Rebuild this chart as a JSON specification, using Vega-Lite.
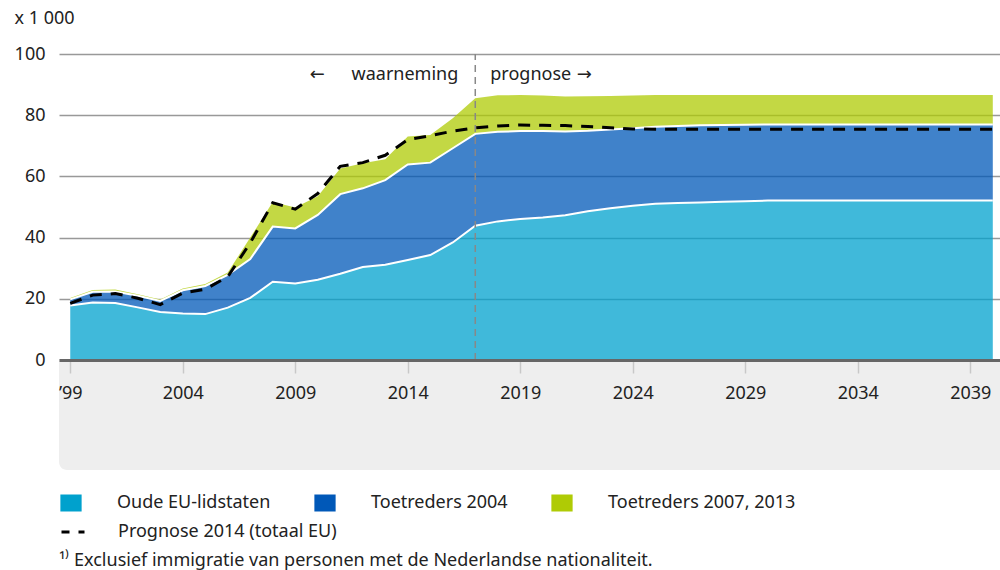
{
  "$schema": "https://vega.github.io/schema/vega-lite/v6.json",
  "width": 941,
  "height": 306,
  "autosize": {"type": "none"},
  "padding": {"left": 59, "top": 54, "right": 0, "bottom": 210},
  "background": "white",
  "config": {
    "font": "Noto Sans",
    "view": {"stroke": null},
    "legend": {"padding": 0}
  },
  "title": {
    "text": "¹⁾ Exclusief immigratie van personen met de Nederlandse nationaliteit.",
    "orient": "bottom",
    "anchor": "start",
    "frame": "group",
    "offset": 11,
    "fontSize": 18,
    "fontWeight": "normal",
    "color": "#222222"
  },
  "data": {"values": [{}]},
  "datasets": {
    "reeksen": [
      {"jaar": 1999, "reeks": "Oude EU-lidstaten", "waarde": 17.8},
      {"jaar": 2000, "reeks": "Oude EU-lidstaten", "waarde": 18.8},
      {"jaar": 2001, "reeks": "Oude EU-lidstaten", "waarde": 18.6},
      {"jaar": 2002, "reeks": "Oude EU-lidstaten", "waarde": 17.2},
      {"jaar": 2003, "reeks": "Oude EU-lidstaten", "waarde": 15.7},
      {"jaar": 2004, "reeks": "Oude EU-lidstaten", "waarde": 15.2},
      {"jaar": 2005, "reeks": "Oude EU-lidstaten", "waarde": 15.0},
      {"jaar": 2006, "reeks": "Oude EU-lidstaten", "waarde": 17.1},
      {"jaar": 2007, "reeks": "Oude EU-lidstaten", "waarde": 20.3},
      {"jaar": 2008, "reeks": "Oude EU-lidstaten", "waarde": 25.6},
      {"jaar": 2009, "reeks": "Oude EU-lidstaten", "waarde": 25.0},
      {"jaar": 2010, "reeks": "Oude EU-lidstaten", "waarde": 26.2},
      {"jaar": 2011, "reeks": "Oude EU-lidstaten", "waarde": 28.2},
      {"jaar": 2012, "reeks": "Oude EU-lidstaten", "waarde": 30.4},
      {"jaar": 2013, "reeks": "Oude EU-lidstaten", "waarde": 31.1},
      {"jaar": 2014, "reeks": "Oude EU-lidstaten", "waarde": 32.7},
      {"jaar": 2015, "reeks": "Oude EU-lidstaten", "waarde": 34.3},
      {"jaar": 2016, "reeks": "Oude EU-lidstaten", "waarde": 38.4},
      {"jaar": 2017, "reeks": "Oude EU-lidstaten", "waarde": 43.9},
      {"jaar": 2018, "reeks": "Oude EU-lidstaten", "waarde": 45.3},
      {"jaar": 2019, "reeks": "Oude EU-lidstaten", "waarde": 46.1},
      {"jaar": 2020, "reeks": "Oude EU-lidstaten", "waarde": 46.6},
      {"jaar": 2021, "reeks": "Oude EU-lidstaten", "waarde": 47.3},
      {"jaar": 2022, "reeks": "Oude EU-lidstaten", "waarde": 48.6},
      {"jaar": 2023, "reeks": "Oude EU-lidstaten", "waarde": 49.6},
      {"jaar": 2024, "reeks": "Oude EU-lidstaten", "waarde": 50.4},
      {"jaar": 2025, "reeks": "Oude EU-lidstaten", "waarde": 51.1},
      {"jaar": 2026, "reeks": "Oude EU-lidstaten", "waarde": 51.3},
      {"jaar": 2027, "reeks": "Oude EU-lidstaten", "waarde": 51.5},
      {"jaar": 2028, "reeks": "Oude EU-lidstaten", "waarde": 51.7},
      {"jaar": 2029, "reeks": "Oude EU-lidstaten", "waarde": 51.9},
      {"jaar": 2030, "reeks": "Oude EU-lidstaten", "waarde": 52.1},
      {"jaar": 2031, "reeks": "Oude EU-lidstaten", "waarde": 52.1},
      {"jaar": 2032, "reeks": "Oude EU-lidstaten", "waarde": 52.1},
      {"jaar": 2033, "reeks": "Oude EU-lidstaten", "waarde": 52.1},
      {"jaar": 2034, "reeks": "Oude EU-lidstaten", "waarde": 52.1},
      {"jaar": 2035, "reeks": "Oude EU-lidstaten", "waarde": 52.1},
      {"jaar": 2036, "reeks": "Oude EU-lidstaten", "waarde": 52.1},
      {"jaar": 2037, "reeks": "Oude EU-lidstaten", "waarde": 52.1},
      {"jaar": 2038, "reeks": "Oude EU-lidstaten", "waarde": 52.1},
      {"jaar": 2039, "reeks": "Oude EU-lidstaten", "waarde": 52.1},
      {"jaar": 2040, "reeks": "Oude EU-lidstaten", "waarde": 52.1},
      {"jaar": 1999, "reeks": "Toetreders 2004", "waarde": 2.0},
      {"jaar": 2000, "reeks": "Toetreders 2004", "waarde": 3.5},
      {"jaar": 2001, "reeks": "Toetreders 2004", "waarde": 3.8},
      {"jaar": 2002, "reeks": "Toetreders 2004", "waarde": 3.8},
      {"jaar": 2003, "reeks": "Toetreders 2004", "waarde": 3.6},
      {"jaar": 2004, "reeks": "Toetreders 2004", "waarde": 7.6},
      {"jaar": 2005, "reeks": "Toetreders 2004", "waarde": 9.2},
      {"jaar": 2006, "reeks": "Toetreders 2004", "waarde": 10.7},
      {"jaar": 2007, "reeks": "Toetreders 2004", "waarde": 12.7},
      {"jaar": 2008, "reeks": "Toetreders 2004", "waarde": 18.0},
      {"jaar": 2009, "reeks": "Toetreders 2004", "waarde": 18.0},
      {"jaar": 2010, "reeks": "Toetreders 2004", "waarde": 21.2},
      {"jaar": 2011, "reeks": "Toetreders 2004", "waarde": 26.0},
      {"jaar": 2012, "reeks": "Toetreders 2004", "waarde": 25.7},
      {"jaar": 2013, "reeks": "Toetreders 2004", "waarde": 27.7},
      {"jaar": 2014, "reeks": "Toetreders 2004", "waarde": 31.2},
      {"jaar": 2015, "reeks": "Toetreders 2004", "waarde": 30.2},
      {"jaar": 2016, "reeks": "Toetreders 2004", "waarde": 30.8},
      {"jaar": 2017, "reeks": "Toetreders 2004", "waarde": 30.0},
      {"jaar": 2018, "reeks": "Toetreders 2004", "waarde": 29.3},
      {"jaar": 2019, "reeks": "Toetreders 2004", "waarde": 28.7},
      {"jaar": 2020, "reeks": "Toetreders 2004", "waarde": 28.2},
      {"jaar": 2021, "reeks": "Toetreders 2004", "waarde": 27.4},
      {"jaar": 2022, "reeks": "Toetreders 2004", "waarde": 26.3},
      {"jaar": 2023, "reeks": "Toetreders 2004", "waarde": 25.7},
      {"jaar": 2024, "reeks": "Toetreders 2004", "waarde": 25.3},
      {"jaar": 2025, "reeks": "Toetreders 2004", "waarde": 25.1},
      {"jaar": 2026, "reeks": "Toetreders 2004", "waarde": 25.2},
      {"jaar": 2027, "reeks": "Toetreders 2004", "waarde": 25.2},
      {"jaar": 2028, "reeks": "Toetreders 2004", "waarde": 25.1},
      {"jaar": 2029, "reeks": "Toetreders 2004", "waarde": 25.0},
      {"jaar": 2030, "reeks": "Toetreders 2004", "waarde": 24.9},
      {"jaar": 2031, "reeks": "Toetreders 2004", "waarde": 24.9},
      {"jaar": 2032, "reeks": "Toetreders 2004", "waarde": 24.9},
      {"jaar": 2033, "reeks": "Toetreders 2004", "waarde": 24.9},
      {"jaar": 2034, "reeks": "Toetreders 2004", "waarde": 24.9},
      {"jaar": 2035, "reeks": "Toetreders 2004", "waarde": 24.9},
      {"jaar": 2036, "reeks": "Toetreders 2004", "waarde": 24.9},
      {"jaar": 2037, "reeks": "Toetreders 2004", "waarde": 24.9},
      {"jaar": 2038, "reeks": "Toetreders 2004", "waarde": 24.9},
      {"jaar": 2039, "reeks": "Toetreders 2004", "waarde": 24.9},
      {"jaar": 2040, "reeks": "Toetreders 2004", "waarde": 24.9},
      {"jaar": 1999, "reeks": "Toetreders 2007, 2013", "waarde": 0.5},
      {"jaar": 2000, "reeks": "Toetreders 2007, 2013", "waarde": 0.6},
      {"jaar": 2001, "reeks": "Toetreders 2007, 2013", "waarde": 0.6},
      {"jaar": 2002, "reeks": "Toetreders 2007, 2013", "waarde": 0.5},
      {"jaar": 2003, "reeks": "Toetreders 2007, 2013", "waarde": 0.5},
      {"jaar": 2004, "reeks": "Toetreders 2007, 2013", "waarde": 0.6},
      {"jaar": 2005, "reeks": "Toetreders 2007, 2013", "waarde": 0.6},
      {"jaar": 2006, "reeks": "Toetreders 2007, 2013", "waarde": 0.8},
      {"jaar": 2007, "reeks": "Toetreders 2007, 2013", "waarde": 7.0},
      {"jaar": 2008, "reeks": "Toetreders 2007, 2013", "waarde": 8.0},
      {"jaar": 2009, "reeks": "Toetreders 2007, 2013", "waarde": 6.8},
      {"jaar": 2010, "reeks": "Toetreders 2007, 2013", "waarde": 6.1},
      {"jaar": 2011, "reeks": "Toetreders 2007, 2013", "waarde": 8.4},
      {"jaar": 2012, "reeks": "Toetreders 2007, 2013", "waarde": 8.2},
      {"jaar": 2013, "reeks": "Toetreders 2007, 2013", "waarde": 6.8},
      {"jaar": 2014, "reeks": "Toetreders 2007, 2013", "waarde": 9.1},
      {"jaar": 2015, "reeks": "Toetreders 2007, 2013", "waarde": 9.0},
      {"jaar": 2016, "reeks": "Toetreders 2007, 2013", "waarde": 9.8},
      {"jaar": 2017, "reeks": "Toetreders 2007, 2013", "waarde": 11.6},
      {"jaar": 2018, "reeks": "Toetreders 2007, 2013", "waarde": 11.9},
      {"jaar": 2019, "reeks": "Toetreders 2007, 2013", "waarde": 11.8},
      {"jaar": 2020, "reeks": "Toetreders 2007, 2013", "waarde": 11.6},
      {"jaar": 2021, "reeks": "Toetreders 2007, 2013", "waarde": 11.4},
      {"jaar": 2022, "reeks": "Toetreders 2007, 2013", "waarde": 11.3},
      {"jaar": 2023, "reeks": "Toetreders 2007, 2013", "waarde": 11.0},
      {"jaar": 2024, "reeks": "Toetreders 2007, 2013", "waarde": 10.7},
      {"jaar": 2025, "reeks": "Toetreders 2007, 2013", "waarde": 10.4},
      {"jaar": 2026, "reeks": "Toetreders 2007, 2013", "waarde": 10.1},
      {"jaar": 2027, "reeks": "Toetreders 2007, 2013", "waarde": 9.9},
      {"jaar": 2028, "reeks": "Toetreders 2007, 2013", "waarde": 9.8},
      {"jaar": 2029, "reeks": "Toetreders 2007, 2013", "waarde": 9.7},
      {"jaar": 2030, "reeks": "Toetreders 2007, 2013", "waarde": 9.6},
      {"jaar": 2031, "reeks": "Toetreders 2007, 2013", "waarde": 9.6},
      {"jaar": 2032, "reeks": "Toetreders 2007, 2013", "waarde": 9.6},
      {"jaar": 2033, "reeks": "Toetreders 2007, 2013", "waarde": 9.6},
      {"jaar": 2034, "reeks": "Toetreders 2007, 2013", "waarde": 9.6},
      {"jaar": 2035, "reeks": "Toetreders 2007, 2013", "waarde": 9.6},
      {"jaar": 2036, "reeks": "Toetreders 2007, 2013", "waarde": 9.6},
      {"jaar": 2037, "reeks": "Toetreders 2007, 2013", "waarde": 9.6},
      {"jaar": 2038, "reeks": "Toetreders 2007, 2013", "waarde": 9.6},
      {"jaar": 2039, "reeks": "Toetreders 2007, 2013", "waarde": 9.6},
      {"jaar": 2040, "reeks": "Toetreders 2007, 2013", "waarde": 9.6}
    ],
    "prognose": [
      {"jaar": 1999, "reeks": "Prognose 2014 (totaal EU)", "waarde": 18.5},
      {"jaar": 2000, "reeks": "Prognose 2014 (totaal EU)", "waarde": 21.2},
      {"jaar": 2001, "reeks": "Prognose 2014 (totaal EU)", "waarde": 21.7},
      {"jaar": 2002, "reeks": "Prognose 2014 (totaal EU)", "waarde": 20.2},
      {"jaar": 2003, "reeks": "Prognose 2014 (totaal EU)", "waarde": 18.1},
      {"jaar": 2004, "reeks": "Prognose 2014 (totaal EU)", "waarde": 21.9},
      {"jaar": 2005, "reeks": "Prognose 2014 (totaal EU)", "waarde": 23.1},
      {"jaar": 2006, "reeks": "Prognose 2014 (totaal EU)", "waarde": 27.2},
      {"jaar": 2007, "reeks": "Prognose 2014 (totaal EU)", "waarde": 38.3},
      {"jaar": 2008, "reeks": "Prognose 2014 (totaal EU)", "waarde": 51.4},
      {"jaar": 2009, "reeks": "Prognose 2014 (totaal EU)", "waarde": 49.3},
      {"jaar": 2010, "reeks": "Prognose 2014 (totaal EU)", "waarde": 54.4},
      {"jaar": 2011, "reeks": "Prognose 2014 (totaal EU)", "waarde": 63.3},
      {"jaar": 2012, "reeks": "Prognose 2014 (totaal EU)", "waarde": 64.5},
      {"jaar": 2013, "reeks": "Prognose 2014 (totaal EU)", "waarde": 66.9},
      {"jaar": 2014, "reeks": "Prognose 2014 (totaal EU)", "waarde": 72.0},
      {"jaar": 2015, "reeks": "Prognose 2014 (totaal EU)", "waarde": 73.3},
      {"jaar": 2016, "reeks": "Prognose 2014 (totaal EU)", "waarde": 74.8},
      {"jaar": 2017, "reeks": "Prognose 2014 (totaal EU)", "waarde": 75.9},
      {"jaar": 2018, "reeks": "Prognose 2014 (totaal EU)", "waarde": 76.5},
      {"jaar": 2019, "reeks": "Prognose 2014 (totaal EU)", "waarde": 76.8},
      {"jaar": 2020, "reeks": "Prognose 2014 (totaal EU)", "waarde": 76.7},
      {"jaar": 2021, "reeks": "Prognose 2014 (totaal EU)", "waarde": 76.6},
      {"jaar": 2022, "reeks": "Prognose 2014 (totaal EU)", "waarde": 76.3},
      {"jaar": 2023, "reeks": "Prognose 2014 (totaal EU)", "waarde": 75.9},
      {"jaar": 2024, "reeks": "Prognose 2014 (totaal EU)", "waarde": 75.5},
      {"jaar": 2025, "reeks": "Prognose 2014 (totaal EU)", "waarde": 75.4},
      {"jaar": 2026, "reeks": "Prognose 2014 (totaal EU)", "waarde": 75.4},
      {"jaar": 2027, "reeks": "Prognose 2014 (totaal EU)", "waarde": 75.4},
      {"jaar": 2028, "reeks": "Prognose 2014 (totaal EU)", "waarde": 75.4},
      {"jaar": 2029, "reeks": "Prognose 2014 (totaal EU)", "waarde": 75.4},
      {"jaar": 2030, "reeks": "Prognose 2014 (totaal EU)", "waarde": 75.4},
      {"jaar": 2031, "reeks": "Prognose 2014 (totaal EU)", "waarde": 75.4},
      {"jaar": 2032, "reeks": "Prognose 2014 (totaal EU)", "waarde": 75.4},
      {"jaar": 2033, "reeks": "Prognose 2014 (totaal EU)", "waarde": 75.4},
      {"jaar": 2034, "reeks": "Prognose 2014 (totaal EU)", "waarde": 75.4},
      {"jaar": 2035, "reeks": "Prognose 2014 (totaal EU)", "waarde": 75.4},
      {"jaar": 2036, "reeks": "Prognose 2014 (totaal EU)", "waarde": 75.4},
      {"jaar": 2037, "reeks": "Prognose 2014 (totaal EU)", "waarde": 75.4},
      {"jaar": 2038, "reeks": "Prognose 2014 (totaal EU)", "waarde": 75.4},
      {"jaar": 2039, "reeks": "Prognose 2014 (totaal EU)", "waarde": 75.4},
      {"jaar": 2040, "reeks": "Prognose 2014 (totaal EU)", "waarde": 75.4}
    ]
  },
  "layer": [
    {
      "mark": {"type": "rect", "fill": "#eeeeee", "cornerRadiusBottomLeft": 8},
      "encoding": {
        "x": {"datum": 1998.5, "type": "quantitative"},
        "x2": {"datum": 2040.32},
        "y": {"datum": 0, "type": "quantitative"},
        "y2": {"datum": -35.95}
      }
    },
    {
      "data": {"name": "reeksen"},
      "mark": {"type": "area", "fillOpacity": 0.75},
      "encoding": {
        "x": {
          "field": "jaar",
          "type": "quantitative",
          "scale": {"domain": [1998.5, 2040.32], "nice": false, "zero": false},
          "axis": {
            "title": null,
            "values": [1999, 2004, 2009, 2014, 2019, 2024, 2029, 2034, 2039],
            "labelExpr": "datum.value == 1999 ? '’99' : datum.value",
            "grid": false,
            "domainColor": "#666666",
            "domainWidth": 3,
            "tickColor": "#c8c8c8",
            "tickWidth": 1.5,
            "tickSize": 13,
            "labelFontSize": 18,
            "labelColor": "#222222",
            "labelPadding": 11,
            "labelFlush": false,
            "zindex": 1
          }
        },
        "y": {
          "field": "waarde",
          "type": "quantitative",
          "stack": "zero",
          "scale": {"domain": [0, 100], "nice": false, "zero": false},
          "axis": {
            "title": "x 1 000",
            "titleAngle": 0,
            "titleAlign": "left",
            "titleBaseline": "middle",
            "titleX": -45,
            "titleY": -36,
            "titleFontSize": 18,
            "titleFontWeight": "normal",
            "titleColor": "#222222",
            "values": [0, 20, 40, 60, 80, 100],
            "grid": true,
            "gridColor": "#999999",
            "gridWidth": 1.5,
            "domain": false,
            "ticks": false,
            "labelFontSize": 18,
            "labelColor": "#222222",
            "labelPadding": 14,
            "zindex": 0
          }
        },
        "order": {"field": "reeks", "type": "ordinal", "sort": "ascending"},
        "color": {
          "field": "reeks",
          "type": "nominal",
          "scale": {
            "domain": ["Oude EU-lidstaten", "Toetreders 2004", "Toetreders 2007, 2013"],
            "range": ["#00a1cd", "#0058b8", "#afcb05"]
          },
          "legend": {
            "title": null,
            "orient": "none",
            "legendX": 3,
            "legendY": 440,
            "direction": "horizontal",
            "columns": 3,
            "symbolType": "M-1.25,-1H1.25V1H-1.25Z",
            "symbolSize": 289,
            "symbolStrokeWidth": 0,
            "symbolOpacity": 1,
            "labelFontSize": 18,
            "labelColor": "#222222",
            "labelOffset": 37,
            "columnPadding": 43,
            "labelLimit": 400,
            "encode": {"symbols": {"update": {"fillOpacity": {"value": 1}, "opacity": {"value": 1}}}}
          }
        }
      }
    },
    {
      "data": {"name": "reeksen"},
      "transform": [{"filter": "datum.reeks != 'Toetreders 2007, 2013'"}],
      "mark": {"type": "line", "stroke": "white", "strokeWidth": 2},
      "encoding": {
        "x": {"field": "jaar", "type": "quantitative"},
        "y": {"field": "waarde", "type": "quantitative", "stack": "zero"},
        "detail": {"field": "reeks", "type": "nominal"},
        "order": {"field": "reeks", "type": "ordinal", "sort": "ascending"}
      }
    },
    {
      "mark": {"type": "rule", "stroke": "#888888", "strokeWidth": 1.5, "strokeDash": [7, 5]},
      "encoding": {
        "x": {"datum": 2017, "type": "quantitative"},
        "y": {"datum": 0, "type": "quantitative"},
        "y2": {"datum": 100}
      }
    },
    {
      "data": {"name": "prognose"},
      "mark": {"type": "line", "stroke": "black", "strokeWidth": 3},
      "encoding": {
        "x": {"field": "jaar", "type": "quantitative"},
        "y": {"field": "waarde", "type": "quantitative"},
        "strokeDash": {
          "field": "reeks",
          "type": "nominal",
          "scale": {"range": [[12, 9]]},
          "legend": {
            "title": null,
            "orient": "none",
            "legendX": 1,
            "legendY": 465,
            "symbolType": "stroke",
            "symbolSize": 529,
            "symbolStrokeWidth": 3,
            "symbolStrokeColor": "black",
            "labelFontSize": 18,
            "labelColor": "#222222",
            "labelOffset": 32,
            "labelLimit": 400,
            "encode": {"symbols": {"update": {"strokeDash": {"value": [8, 4]}, "strokeDashOffset": {"value": 4}}}}
          }
        }
      }
    },
    {
      "mark": {"type": "text", "align": "right", "baseline": "middle", "dx": -17, "fontSize": 18, "color": "#222222"},
      "encoding": {
        "x": {"datum": 2017, "type": "quantitative"},
        "y": {"datum": 93, "type": "quantitative"},
        "text": {"value": "waarneming"}
      }
    },
    {
      "mark": {"type": "text", "align": "center", "baseline": "middle", "dx": -158, "fontSize": 18, "font": "DejaVu Sans", "color": "#222222"},
      "encoding": {
        "x": {"datum": 2017, "type": "quantitative"},
        "y": {"datum": 93, "type": "quantitative"},
        "text": {"value": "←"}
      }
    },
    {
      "mark": {"type": "text", "align": "left", "baseline": "middle", "dx": 15, "fontSize": 18, "color": "#222222"},
      "encoding": {
        "x": {"datum": 2017, "type": "quantitative"},
        "y": {"datum": 93, "type": "quantitative"},
        "text": {"value": "prognose"}
      }
    },
    {
      "mark": {"type": "text", "align": "center", "baseline": "middle", "dx": 109, "fontSize": 18, "font": "DejaVu Sans", "color": "#222222"},
      "encoding": {
        "x": {"datum": 2017, "type": "quantitative"},
        "y": {"datum": 93, "type": "quantitative"},
        "text": {"value": "→"}
      }
    }
  ]
}
